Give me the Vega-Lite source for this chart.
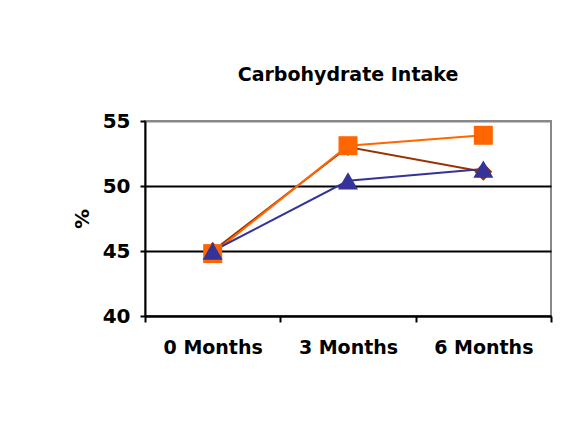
{
  "$schema": "https://vega.github.io/schema/vega-lite/v6.json",
  "width": 406,
  "height": 195,
  "autosize": "none",
  "padding": {"left": 145, "top": 121, "right": 25, "bottom": 122},
  "background": "white",
  "title": {
    "text": "Carbohydrate Intake",
    "font": "DejaVu Sans",
    "fontSize": 19,
    "fontWeight": "bold",
    "color": "black",
    "anchor": "middle",
    "offset": 26
  },
  "data": {
    "values": [
      {"month": "0 Months", "series": "Group 1", "value": 45.0},
      {"month": "3 Months", "series": "Group 1", "value": 53.0},
      {"month": "6 Months", "series": "Group 1", "value": 51.1},
      {"month": "0 Months", "series": "Group 2", "value": 44.8},
      {"month": "3 Months", "series": "Group 2", "value": 53.1},
      {"month": "6 Months", "series": "Group 2", "value": 53.9},
      {"month": "0 Months", "series": "Group 3", "value": 45.0},
      {"month": "3 Months", "series": "Group 3", "value": 50.4},
      {"month": "6 Months", "series": "Group 3", "value": 51.3}
    ]
  },
  "encoding": {
    "x": {
      "field": "month",
      "type": "ordinal",
      "scale": {"paddingInner": 0, "paddingOuter": 0},
      "axis": {
        "title": null,
        "labelAngle": 0,
        "labelFont": "DejaVu Sans",
        "labelFontSize": 19,
        "labelFontWeight": "bold",
        "labelColor": "black",
        "labelPadding": 16,
        "tickBand": "extent",
        "tickSize": 6,
        "tickWidth": 2,
        "tickColor": "black",
        "domainColor": "black",
        "domainWidth": 2,
        "grid": false
      }
    },
    "y": {
      "field": "value",
      "type": "quantitative",
      "scale": {"domain": [40, 55], "nice": false, "zero": false},
      "axis": {
        "title": "%",
        "titleFont": "DejaVu Sans",
        "titleFontSize": 20,
        "titleFontWeight": "bold",
        "titleColor": "black",
        "titlePadding": 10,
        "values": [40, 45, 50, 55],
        "labelFont": "DejaVu Sans",
        "labelFontSize": 20,
        "labelFontWeight": "bold",
        "labelColor": "black",
        "labelPadding": 10,
        "tickSize": 5,
        "tickWidth": 2,
        "tickColor": "black",
        "domainColor": "black",
        "domainWidth": 2,
        "grid": true,
        "gridColor": {"condition": {"test": "datum.value == 55", "value": "#888888"}, "value": "black"},
        "gridWidth": 2
      }
    },
    "color": {
      "field": "series",
      "type": "nominal",
      "scale": {"domain": ["Group 1", "Group 2", "Group 3"], "range": ["#993300", "#FF6600", "#333399"]},
      "legend": null
    }
  },
  "layer": [
    {
      "mark": {"type": "line", "strokeWidth": 2}
    },
    {
      "mark": {"type": "point", "filled": true, "opacity": 1},
      "encoding": {
        "shape": {
          "field": "series",
          "type": "nominal",
          "scale": {"domain": ["Group 1", "Group 2", "Group 3"], "range": ["diamond", "square", "triangle-up"]},
          "legend": null
        },
        "size": {
          "field": "series",
          "type": "nominal",
          "scale": {"domain": ["Group 1", "Group 2", "Group 3"], "range": [320, 400, 520]},
          "legend": null
        }
      }
    }
  ],
  "config": {
    "view": {"stroke": "#888888", "strokeWidth": 2}
  }
}
